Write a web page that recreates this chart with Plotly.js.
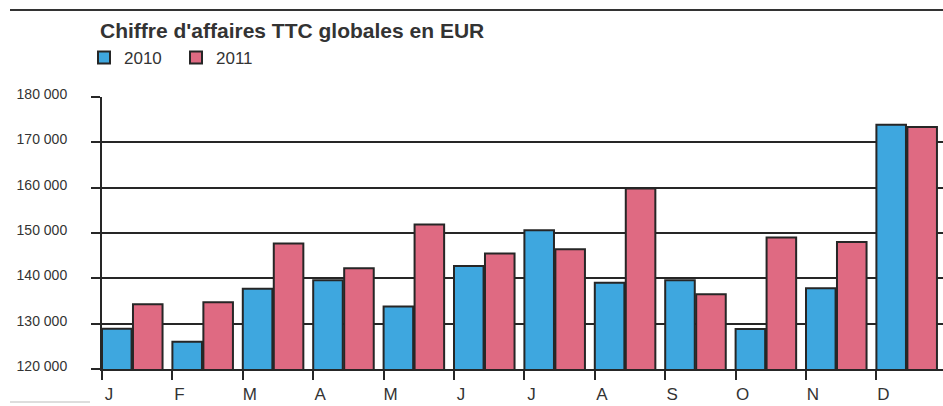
<!DOCTYPE html>
<html>
<head>
<meta charset="utf-8">
<script src="https://cdn.plot.ly/plotly-3.0.1.min.js"></script>
<style>
  html, body { margin: 0; padding: 0; background: #fff; }
  #chart { width: 943px; height: 406px; }
</style>
</head>
<body>
<div id="chart"></div>
<script>
// ---- data ----
const months = ["J", "F", "M", "A", "M", "J", "J", "A", "S", "O", "N", "D"];
const sales2010 = [128900, 126000, 137700, 139600, 133800, 142700, 150600, 139000, 139600, 128800, 137800, 173900];
const sales2011 = [134300, 134700, 147700, 142200, 151900, 145500, 146400, 159800, 136500, 149000, 148000, 173400];
const yTicks = [120000, 130000, 140000, 150000, 160000, 170000, 180000];
const yTickText = ["120 000", "130 000", "140 000", "150 000", "160 000", "170 000", "180 000"];
const seriesNames = ["2010", "2011"];

const idx = months.map((m, i) => i);
const boundaries = months.map((m, i) => i - 0.5);

const dark = "#262626";
const txt = "#333333";
const font = "Liberation Sans, Arial, sans-serif";

const traces = [
  {
    type: "bar", name: seriesNames[0], x: idx, y: sales2010,
    offset: -0.5, width: 0.42,
    marker: { color: "#3ea7df", line: { color: dark, width: 2 } },
    hoverinfo: "skip"
  },
  {
    type: "bar", name: seriesNames[1], x: idx, y: sales2011,
    offset: -0.06, width: 0.42,
    marker: { color: "#df6a82", line: { color: dark, width: 2 } },
    hoverinfo: "skip"
  }
];

const layout = {
  width: 943, height: 406,
  margin: { l: 102, r: 0, t: 97, b: 37 },
  paper_bgcolor: "#fff", plot_bgcolor: "#fff",
  font: { family: font, color: txt },
  title: {
    text: "<b>Chiffre d'affaires TTC globales en EUR</b>",
    font: { family: font, size: 21, color: txt },
    xref: "container", yref: "container",
    x: 100 / 943, xanchor: "left",
    y: 1 - 31 / 406, yanchor: "middle"
  },
  showlegend: true,
  legend: {
    orientation: "h",
    xref: "container", yref: "container",
    x: 84 / 943, xanchor: "left",
    y: 1 - 40 / 406, yanchor: "top",
    font: { family: font, size: 17, color: txt },
    entrywidth: 47,
    bgcolor: "rgba(0,0,0,0)"
  },
  bargap: 0,
  xaxis: {
    type: "linear",
    range: [-0.5, 11.446],
    tickvals: boundaries, ticktext: months,
    ticks: "outside", ticklen: 9, tickwidth: 2, tickcolor: dark,
    ticklabelshift: 7,
    tickfont: { family: font, size: 17, color: txt },
    showgrid: false, zeroline: false,
    showline: true, linecolor: dark, linewidth: 2,
    fixedrange: true
  },
  yaxis: {
    range: [120000, 180000],
    tickvals: yTicks, ticktext: yTickText,
    ticks: "outside", ticklen: 9, tickwidth: 2, tickcolor: dark,
    ticklabelstandoff: 21,
    ticklabelshift: -3,
    tickfont: { family: font, size: 14, color: txt },
    showgrid: true, gridcolor: dark, gridwidth: 2,
    zeroline: false,
    showline: true, linecolor: dark, linewidth: 2,
    fixedrange: true
  },
  shapes: [
    { type: "line", xref: "paper", yref: "paper",
      x0: (10 - 102) / 841, x1: 1, y0: (369 - 10) / 272, y1: (369 - 10) / 272,
      line: { color: "#333", width: 2 } },
    { type: "line", xref: "paper", yref: "paper",
      x0: (10 - 102) / 841, x1: (90 - 102) / 841, y0: (369 - 402) / 272, y1: (369 - 402) / 272,
      line: { color: "#bbb", width: 1 } }
  ]
};

Plotly.newPlot("chart", traces, layout, { staticPlot: true, displayModeBar: false });
</script>
</body>
</html>
